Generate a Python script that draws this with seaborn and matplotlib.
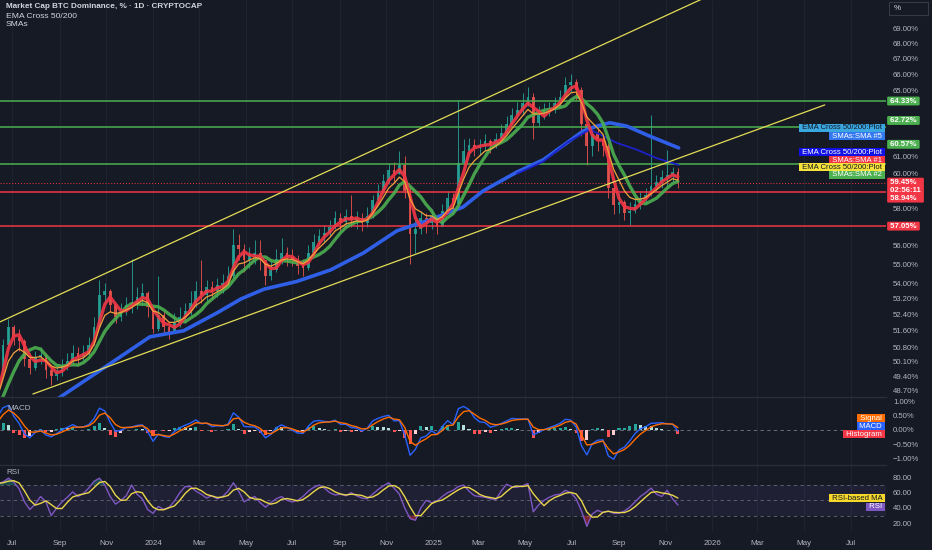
import numpy as np
import pandas as pd
import seaborn as sns
import matplotlib
matplotlib.use("Agg")
import matplotlib.pyplot as plt
from matplotlib.ticker import FixedLocator, FuncFormatter, NullLocator
from matplotlib.patches import Rectangle

# weekly candles, first week starts 2023-06-12
first_week = "2023-06-12"
close = [49.5, 50.9, 51.8, 51.3, 51.1, 50.2, 49.8, 50.3, 50.4, 49.7,
         49.4, 49.6, 49.9, 50.1, 50.5, 50.3, 50.5, 50.9, 51.8, 53.4,
         53.6, 52.9, 52.3, 52.6, 52.9, 53.0, 53.3, 53.5, 52.8, 51.7,
         52.4, 51.8, 51.5, 52.0, 52.3, 52.6, 53.0, 53.6, 53.4, 53.8,
         53.6, 53.9, 54.0, 54.4, 56.0, 55.8, 55.2, 55.5, 55.6, 55.2,
         54.4, 54.7, 55.3, 55.6, 55.4, 55.2, 54.9, 54.8, 55.6, 56.2,
         56.5, 56.7, 57.0, 57.5, 57.3, 57.6, 57.4, 57.5, 57.2, 57.6,
         58.5, 59.0, 59.6, 60.2, 60.0, 60.5, 59.0, 56.6, 56.9, 57.5,
         57.2, 57.6, 57.0, 57.9, 58.6, 58.3, 60.6, 61.3, 61.7, 61.5,
         61.6, 61.9, 61.6, 62.0, 62.4, 62.9, 63.5, 63.8, 64.2, 64.6,
         63.0, 63.5, 63.7, 63.9, 64.2, 64.6, 65.3, 65.5, 65.0, 62.9,
         61.6, 62.3, 62.0, 61.6, 59.2, 58.2, 58.4, 57.8, 57.9, 58.3,
         58.6, 58.8, 59.3, 59.5, 59.8, 59.9, 60.1, 59.45]
high = [50.0, 51.2, 52.2, 51.9, 51.7, 51.2, 50.5, 50.6, 50.8, 50.5,
        49.9, 50.0, 50.2, 50.5, 50.9, 50.8, 50.9, 51.3, 52.3, 54.2,
        54.0, 53.7, 53.0, 53.0, 53.3, 55.3, 53.8, 54.0, 53.6, 52.8,
        54.4, 52.6, 52.0, 52.5, 52.8, 53.0, 53.6, 54.1, 55.2, 54.2,
        54.1, 54.3, 54.5, 54.9, 56.9, 56.6, 56.1, 55.9, 56.3, 56.3,
        55.2, 55.2, 55.8, 56.4, 55.9, 55.8, 55.5, 55.3, 56.0, 56.6,
        56.9, 57.1, 57.4, 57.9, 57.8, 58.0, 58.8, 57.9, 57.8, 58.1,
        58.8, 59.4, 60.0, 60.6, 60.7, 61.3, 61.0, 59.3, 57.4, 57.9,
        57.8, 58.0, 57.6, 58.3, 59.0, 58.9, 64.4, 62.0, 62.1, 62.0,
        62.0, 62.3, 62.0, 62.4, 62.9, 63.4, 63.9, 64.3, 64.8, 65.2,
        64.8, 64.0, 64.2, 64.3, 64.6, 65.0, 65.8, 66.0, 65.7, 65.2,
        62.9, 62.8, 62.7, 62.3, 61.8, 59.3, 58.9, 58.5, 58.4, 58.7,
        59.0, 59.2, 63.5, 59.9, 60.2, 61.4, 60.4, 60.3]
low = [48.9, 49.4, 50.7, 50.9, 50.6, 49.9, 49.5, 49.7, 50.0, 49.3,
       49.0, 49.2, 49.4, 49.7, 50.0, 49.9, 50.1, 50.4, 50.9, 51.8,
       53.0, 52.6, 52.0, 52.1, 52.4, 52.5, 52.7, 52.9, 52.3, 51.5,
       51.6, 51.4, 51.2, 51.5, 51.8, 52.0, 52.4, 52.8, 53.0, 53.1,
       53.2, 53.3, 53.5, 53.8, 54.3, 55.2, 54.6, 54.8, 55.0, 54.7,
       53.9, 54.2, 54.6, 55.0, 54.9, 54.9, 54.5, 54.4, 54.7, 55.5,
       56.0, 56.2, 56.5, 56.9, 56.8, 57.0, 57.0, 56.9, 56.8, 57.0,
       57.5, 58.3, 58.9, 59.4, 59.5, 60.0, 58.6, 55.0, 55.6, 56.6,
       56.7, 56.9, 56.6, 57.2, 57.9, 57.8, 58.2, 60.5, 61.0, 61.0,
       61.1, 61.3, 61.2, 61.5, 61.8, 62.3, 62.9, 63.3, 63.5, 64.0,
       62.0, 62.8, 63.2, 63.4, 63.6, 64.0, 64.6, 64.9, 64.4, 62.2,
       60.5, 61.0, 61.3, 61.0, 58.6, 57.7, 57.8, 57.4, 57.1, 57.8,
       58.0, 58.3, 58.7, 59.0, 59.2, 59.3, 59.5, 59.2]
# May 2023 weeks, left of the visible window, only used to start the averages
warmup_close = [48.0, 47.6, 47.3, 47.5, 47.9, 48.4]

# weekly RSI(14)
rsi = [72, 74, 79, 74, 65, 48, 38, 45, 55, 48,
       30, 40, 48, 54, 61, 55, 59, 66, 75, 79,
       70, 55, 45, 50, 56, 70, 58, 52, 38, 33,
       42, 38, 41, 49, 60, 68, 68, 62, 58, 53,
       56, 52, 55, 62, 73, 62, 48, 52, 55, 47,
       41, 47, 52, 55, 50, 48, 50, 55, 62, 67,
       70, 66, 60, 57, 58, 56, 60, 56, 53, 52,
       58, 64, 69, 73, 66, 58, 40, 26, 24, 40,
       50, 47, 49, 55, 60, 63, 68, 70, 62, 56,
       55, 54, 52, 51, 62, 71, 68, 67, 69, 72,
       35, 44, 50, 54, 57, 58, 63, 60, 52, 36,
       16, 32, 37, 34, 36, 33, 33, 36, 41, 48,
       55, 60, 66, 58, 55, 63, 52, 44]

# 200-day lines
sma200_dates = ["2023-06-15", "2023-09-01", "2023-10-25", "2023-12-28", "2024-02-10",
                "2024-03-25", "2024-04-25", "2024-05-25", "2024-07-07", "2024-08-20",
                "2024-10-02", "2024-11-15", "2024-12-28", "2025-02-09", "2025-03-07",
                "2025-04-21", "2025-05-25", "2025-06-25", "2025-07-16", "2025-08-03",
                "2025-08-20", "2025-09-11", "2025-10-11", "2025-11-18"]
sma200 = [46.6, 48.4, 49.7, 51.3, 51.6, 52.5, 53.2, 53.7, 54.1, 54.7,
          55.6, 56.8, 57.4, 58.1, 59.0, 60.1, 60.8, 61.8, 62.5, 62.8,
          63.0, 62.8, 62.2, 61.5]
ema200_dates = ["2025-04-21", "2025-05-25", "2025-06-25", "2025-07-25",
                "2025-08-29", "2025-09-24", "2025-10-20", "2025-11-18"]
ema200 = [60.0, 60.7, 61.8, 62.6, 61.8, 61.4, 60.9, 60.5]

channel_top_dates = ["2023-06-15", "2026-03-04"]
channel_top = [52.04, 72.78]
channel_bottom_dates = ["2023-07-28", "2026-05-28"]
channel_bottom = [48.56, 64.09]

levels_green = [64.33, 62.72, 60.57]
levels_red = [58.94, 57.05]
last_price = 59.45
countdown = "02:56:11"

# scale labels left visible next to the tags
price_ticks = [69, 68, 67, 66, 65, 61, 60, 58, 56, 55, 54,
               53.2, 52.4, 51.6, 50.8, 50.1, 49.4, 48.7]
macd_ticks = [1.0, 0.5, 0.0, -0.5, -1.0]
rsi_ticks = [20, 40, 60, 80]
month_ticks = pd.date_range("2023-07-01", "2026-07-01", freq="2MS")

BG = "#161a25"
GRID = "#1f2330"
TXT = "#b2b5be"
UP = "#26a69a"
DOWN = "#ef5350"

sns.set_theme(style="dark", rc={
    "axes.facecolor": BG, "figure.facecolor": BG, "axes.edgecolor": BG,
    "text.color": TXT, "xtick.color": TXT, "ytick.color": TXT,
})
plt.rcParams["font.family"] = ["Liberation Sans", "DejaVu Sans"]

weeks_all = pd.date_range(pd.Timestamp(first_week) - pd.Timedelta(weeks=len(warmup_close)),
                          periods=len(warmup_close) + len(close), freq="7D")
weeks = weeks_all[len(warmup_close):]
s = pd.Series(warmup_close + close, index=weeks_all)

sma_fast = s.rolling(3, min_periods=1).mean()
sma_mid = s.rolling(7, min_periods=1).mean()
ema_mid = s.ewm(span=5, adjust=False).mean()

# daily 12/26/9 MACD expressed on weekly steps
macd = s.ewm(alpha=0.69, adjust=False).mean() - s.ewm(alpha=0.417, adjust=False).mean()
signal = macd.ewm(alpha=0.5, adjust=False).mean()
hist = macd - signal

rsi_s = pd.Series(rsi, index=weeks, dtype=float)
rsi_ma = rsi_s.rolling(3, min_periods=1).mean()

fig = plt.figure(figsize=(9.32, 5.5), dpi=100)
W = 886 / 932
ax = fig.add_axes([0, 1 - 397 / 550, W, 397 / 550])
axm = fig.add_axes([0, 1 - 465 / 550, W, 68 / 550], sharex=ax)
axr = fig.add_axes([0, 1 - 532 / 550, W, 67 / 550], sharex=ax)

# candles
opens = np.array([warmup_close[-1]] + close[:-1])
c = np.array(close)
up = c >= opens
cols = np.where(up, UP, DOWN)
ax.vlines(weeks, low, high, colors=cols, linewidth=0.7, alpha=0.85, zorder=2)
ax.bar(weeks, np.maximum(np.abs(c - opens), 0.04), bottom=np.minimum(c, opens),
       width=3.6, color=cols, linewidth=0, alpha=0.85, zorder=2)

for v in levels_green:
    ax.axhline(v, color="#4caf50", linewidth=1.1, zorder=2.5)
for v in levels_red:
    ax.axhline(v, color="#f23645", linewidth=1.1, zorder=2.5)
ax.axhline(last_price, color="#f23645", linewidth=0.7, linestyle=(0, (1, 2)), zorder=2.5)

sns.lineplot(x=pd.to_datetime(sma200_dates), y=sma200, ax=ax, color="#2f5fe6", linewidth=2.6, zorder=3)
sns.lineplot(x=pd.to_datetime(ema200_dates), y=ema200, ax=ax, color="#1c22c8", linewidth=1.3, zorder=3)
sns.lineplot(x=weeks_all, y=sma_mid.values, ax=ax, color="#4caf50", linewidth=2.4, alpha=0.9, zorder=3)
sns.lineplot(x=weeks_all, y=ema_mid.values, ax=ax, color="#f0a23c", linewidth=0.9, zorder=3.2)
sns.lineplot(x=weeks_all, y=sma_fast.values, ax=ax, color="#f23645", linewidth=2.4, alpha=0.9, zorder=3.1)

sns.lineplot(x=pd.to_datetime(channel_top_dates), y=channel_top, ax=ax, color="#e3dc55", linewidth=0.9, zorder=4)
sns.lineplot(x=pd.to_datetime(channel_bottom_dates), y=channel_bottom, ax=ax, color="#e3dc55", linewidth=0.9, zorder=4)

ax.set_yscale("log")
ax.set_ylim(48.42, 70.88)
ax.yaxis.set_major_locator(FixedLocator(price_ticks))
ax.yaxis.set_minor_locator(NullLocator())
ax.yaxis.set_major_formatter(FuncFormatter(lambda v, _: f"{v:.2f}%"))

# MACD pane
hcol = []
prev = 0.0
for h in hist.values:
    if h >= 0:
        hcol.append(UP if h >= prev else "#b2dfdb")
    else:
        hcol.append("#ffcdd2" if h >= prev else "#ff5252")
    prev = h
axm.bar(weeks_all, hist.values, width=4, color=hcol, linewidth=0, zorder=2)
axm.axhline(0, color="#787b86", linewidth=0.6, linestyle=(0, (4, 4)), zorder=1)
sns.lineplot(x=weeks_all, y=macd.values, ax=axm, color="#2962ff", linewidth=1.0, zorder=3)
sns.lineplot(x=weeks_all, y=signal.values, ax=axm, color="#ff6d00", linewidth=1.0, zorder=3)
axm.set_ylim(-1.207, 1.138)
axm.yaxis.set_major_locator(FixedLocator(macd_ticks))
axm.yaxis.set_major_formatter(FuncFormatter(lambda v, _: f"{v:.2f}%".replace("-", "\u2212")))

# RSI pane
axr.axhspan(30, 70, color="#7e57c2", alpha=0.1, linewidth=0, zorder=1)
for lvl in (70, 50, 30):
    axr.axhline(lvl, color="#787b86", linewidth=0.6, linestyle=(0, (4, 4)), alpha=0.8, zorder=1)
axr.fill_between(weeks, rsi_s.values, 70, where=rsi_s.values > 70, interpolate=True,
                 color="#26a69a", alpha=0.35, linewidth=0)
axr.fill_between(weeks, rsi_s.values, 30, where=rsi_s.values < 30, interpolate=True,
                 color="#f23645", alpha=0.45, linewidth=0)
sns.lineplot(x=weeks, y=rsi_s.values, ax=axr, color="#7e57c2", linewidth=1.0, zorder=3)
sns.lineplot(x=weeks, y=rsi_ma.values, ax=axr, color="#e9d64b", linewidth=1.0, zorder=3.1)
axr.set_ylim(8.6, 96.2)
axr.yaxis.set_major_locator(FixedLocator(rsi_ticks))
axr.yaxis.set_major_formatter(FuncFormatter(lambda v, _: f"{v:.2f}"))

axr.set_xlim(pd.Timestamp("2023-06-15"), pd.Timestamp("2026-08-16"))
axr.xaxis.set_major_locator(FixedLocator(matplotlib.dates.date2num(month_ticks)))
axr.xaxis.set_major_formatter(FuncFormatter(
    lambda v, _: (lambda d: str(d.year) if d.month == 1 else d.strftime("%b"))(matplotlib.dates.num2date(v))))

for a in (ax, axm, axr):
    a.set_facecolor(BG)
    a.set_xlabel("")
    a.set_ylabel("")
    a.yaxis.tick_right()
    a.tick_params(axis="y", length=0, pad=5, labelsize=5.6, labelcolor=TXT)
    a.tick_params(axis="x", length=0, pad=6, labelsize=5.8, labelcolor=TXT)
    a.grid(False)
    a.grid(True, axis="x", color=GRID, linewidth=0.8)
    a.set_axisbelow(True)
    for sp in a.spines.values():
        sp.set_visible(False)
for a in (axm, axr):
    a.spines["top"].set_visible(True)
    a.spines["top"].set_color("#2a2e39")
    a.spines["top"].set_linewidth(1.0)
ax.tick_params(labelbottom=False)
axm.tick_params(labelbottom=False)

fx = lambda px: px / 932
fy = lambda py: 1 - py / 550

# price scale tags
def tag(axis, value, color, text=None, dy=0, tcolor="white"):
    axis.annotate(text or f" {value:.2f}% ", xy=(1, value), xycoords=("axes fraction", "data"),
                  xytext=(1.5, dy), textcoords="offset points", ha="left", va="center",
                  fontsize=5.6, color=tcolor, fontweight="bold", annotation_clip=False, zorder=6,
                  bbox=dict(boxstyle="round,pad=0.12,rounding_size=0.15", fc=color, ec="none"))

tag(ax, levels_green[0], "#4caf50")
tag(ax, levels_green[1], "#4caf50", dy=5)
tag(ax, levels_green[2], "#4caf50", dy=14)
tag(ax, last_price, "#f23645", text=f" {last_price:.2f}% \n {countdown} \n {levels_red[0]:.2f}% ", dy=-5)
tag(ax, levels_red[1], "#f23645")

# indicator value labels next to the scale
side = [("EMA Cross 50/200:Plot", 128, "#3aa7e0", "#131722"),
        ("SMAs:SMA #5", 136, "#3478f0", "white"),
        ("EMA Cross 50/200:Plot", 152, "#1212e6", "white"),
        ("SMAs:SMA #1", 160, "#f23645", "white"),
        ("EMA Cross 50/200:Plot", 167, "#f5e23a", "#131722"),
        ("SMAs:SMA #2", 175, "#4caf50", "white"),
        ("Signal", 418, "#ff6d00", "white"),
        ("MACD", 426, "#2962ff", "white"),
        ("Histogram", 434, "#f23645", "white"),
        ("RSI-based MA", 498, "#f5d82a", "#131722"),
        ("RSI", 507, "#7e57c2", "white")]
for label, py, bg, fg in side:
    fig.text(fx(884), fy(py), f" {label} ", ha="right", va="center", fontsize=5.6, color=fg,
             zorder=7, bbox=dict(boxstyle="square,pad=0.08", fc=bg, ec="none"))

# pane titles
fig.text(fx(6), fy(7), "Market Cap BTC Dominance, % \u00b7 1D \u00b7 CRYPTOCAP", fontsize=5.9,
         fontweight="bold", color="#d1d4dc", va="center")
fig.text(fx(6), fy(16), "EMA Cross 50/200", fontsize=6.1, color="#d1d4dc", va="center")
fig.text(fx(6), fy(24), "SMAs", fontsize=6.1, color="#d1d4dc", va="center")
fig.text(fx(7), fy(408), "MACD", fontsize=5.8, color=TXT, va="center")
fig.text(fx(6), fy(473), "RSI", fontsize=5.8, color=TXT, va="center")

fig.patches.append(Rectangle((fx(889), fy(15)), 39 / 932, 13 / 550, transform=fig.transFigure,
                             fc="none", ec="#363a45", linewidth=0.8))
fig.text(fx(894), fy(8.5), "%", fontsize=5.8, color="#d1d4dc", va="center")

fig.savefig("out.png", dpi=100, facecolor=BG)
